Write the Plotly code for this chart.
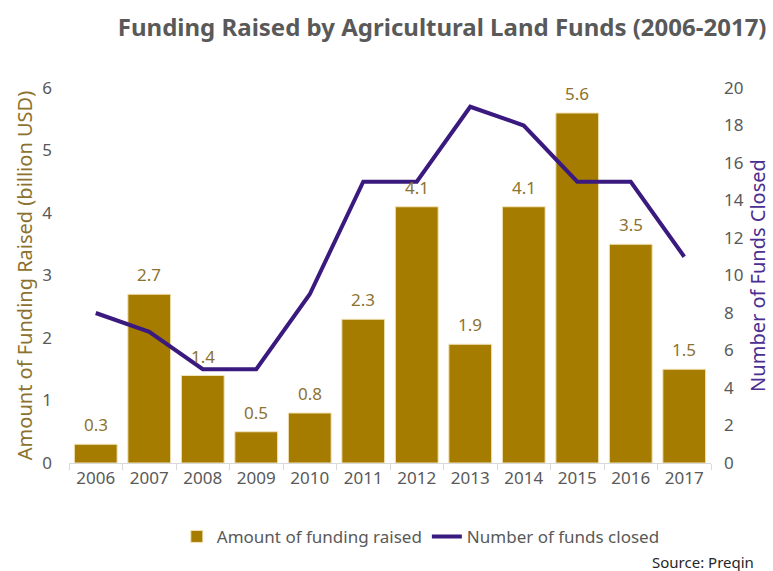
import plotly.graph_objects as go

years = ["2006", "2007", "2008", "2009", "2010", "2011", "2012", "2013", "2014", "2015", "2016", "2017"]
funding = [0.3, 2.7, 1.4, 0.5, 0.8, 2.3, 4.1, 1.9, 4.1, 5.6, 3.5, 1.5]
funds_closed = [8, 7, 5, 5, 9, 15, 15, 19, 18, 15, 15, 11]

GOLD = "#A67C00"
PURPLE = "#3A1A7E"
GRAY = "#595959"
LABEL = "#8C7230"
FONT = "Noto Sans"

fig = go.Figure()
fig.add_trace(go.Bar(
    x=years, y=funding, name="Amount of funding raised",
    marker=dict(color=GOLD, line=dict(color="#F2E3B8", width=1)),
))
fig.add_trace(go.Scatter(
    x=years, y=funds_closed, name="Number of funds closed", yaxis="y2",
    mode="lines", line=dict(color=PURPLE, width=4),
))

# bar value labels (x given as category index on the category axis)
annotations = [dict(x=i, y=v, xref="x", yref="y", text=f"{v:.1f}", showarrow=False,
                    yanchor="bottom", yshift=6, font=dict(size=17, color=LABEL))
               for i, v in enumerate(funding)]
annotations.append(dict(text="Source: Preqin", xref="paper", yref="paper",
                        x=1.07, xanchor="right", y=-0.264, yanchor="middle",
                        showarrow=False, font=dict(size=15, color="#262626")))

fig.update_layout(
    width=773, height=571,
    margin=dict(l=69, r=62, t=88, b=108),
    plot_bgcolor="white", paper_bgcolor="white",
    font=dict(family=FONT, color=GRAY, size=17),
    bargap=0.2,
    title=dict(text="<b>Funding Raised by Agricultural Land Funds (2006-2017)</b>",
               x=0.572, xanchor="center", y=0.952, yanchor="middle",
               font=dict(size=24, color=GRAY, family=FONT)),
    xaxis=dict(type="category", showline=True, linecolor="#D9D9D9", linewidth=1,
               ticks="outside", tickson="boundaries", ticklen=6, tickcolor="#D9D9D9",
               tickfont=dict(size=17, color=GRAY), showgrid=False, automargin=False),
    yaxis=dict(range=[0, 6], dtick=1, showgrid=False, zeroline=False, automargin=False,
               tickfont=dict(size=17, color=GRAY), ticks="", ticklabelstandoff=16,
               title=dict(text="Amount of Funding Raised (billion USD)",
                          font=dict(size=20, color=LABEL), standoff=4)),
    yaxis2=dict(range=[0, 20], dtick=2, overlaying="y", side="right", showgrid=False,
                zeroline=False, automargin=False, tickfont=dict(size=17, color=GRAY),
                ticklabelstandoff=12,
                title=dict(text="Number of Funds Closed",
                           font=dict(size=20, color="#4B2E91"), standoff=6)),
    legend=dict(orientation="h", x=0.548, xanchor="center", y=-0.197, yanchor="middle",
                font=dict(size=17, color=GRAY), traceorder="normal"),
    annotations=annotations,
)

fig.write_html("out.html")
